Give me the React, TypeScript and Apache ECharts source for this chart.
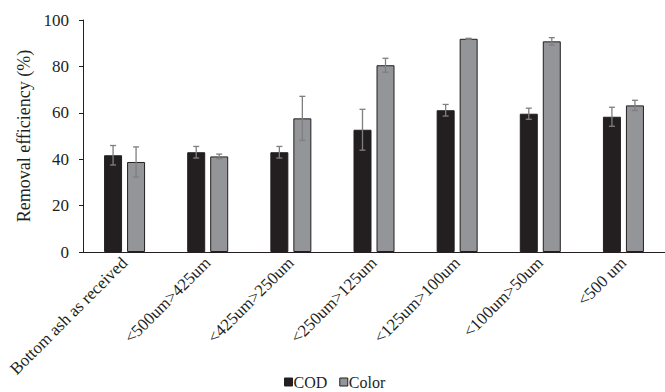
import React, { useEffect, useRef } from "react";
import * as echarts from "echarts";

const categories = [
  "Bottom ash as received",
  "<500um>425um",
  "<425um>250um",
  "<250um>125um",
  "<125um>100um",
  "<100um>50um",
  "<500 um",
];
const codValues = [41.7, 43.0, 43.0, 52.7, 61.1, 59.6, 58.3];
const codErrors = [4.2, 2.5, 2.5, 8.8, 2.5, 2.4, 4.1];
const colorValues = [38.8, 41.2, 57.6, 80.5, 91.9, 90.8, 63.2];
const colorErrors = [6.5, 1.0, 9.5, 3.0, 0.2, 1.6, 2.2];
const yTicks = [0, 20, 40, 60, 80, 100];

const FONT = "'Liberation Serif', 'Times New Roman', serif";
const BAR_W = 18;
const GAP = 5;

function errorSeries(name: string, values: number[], errs: number[], offset: number) {
  return {
    type: "custom",
    name,
    silent: true,
    z: 10,
    data: values.map((v, i) => [i, v - errs[i], v + errs[i]]),
    renderItem: (_params: any, api: any) => {
      const x = api.value(0);
      const lo = api.coord([x, api.value(1)]);
      const hi = api.coord([x, api.value(2)]);
      const cx = lo[0] + offset;
      const cap = 3;
      const style = { stroke: "#7f7f7f", lineWidth: 1.3 };
      return {
        type: "group",
        children: [
          { type: "line", shape: { x1: cx, y1: lo[1], x2: cx, y2: hi[1] }, style },
          { type: "line", shape: { x1: cx - cap, y1: lo[1], x2: cx + cap, y2: lo[1] }, style },
          { type: "line", shape: { x1: cx - cap, y1: hi[1], x2: cx + cap, y2: hi[1] }, style },
        ],
      };
    },
  };
}

export default function App() {
  const ref = useRef<HTMLDivElement>(null);
  useEffect(() => {
    if (!ref.current) return;
    const chart = echarts.init(ref.current, undefined, { renderer: "svg" });
    const off = BAR_W / 2 + GAP / 2;
    chart.setOption({
      animation: false,
      backgroundColor: "#ffffff",
      textStyle: { fontFamily: FONT },
      grid: { left: 83, top: 20, bottom: 140, right: -2, containLabel: false },
      legend: {
        data: ["COD", "Color"],
        bottom: -3,
        left: 279,
        itemWidth: 8,
        itemHeight: 8,
        itemGap: 12,
        icon: "rect",
        itemStyle: { borderColor: "#231f20", borderWidth: 1 },
        textStyle: { fontFamily: FONT, fontSize: 16, color: "#231f20", padding: [0, 0, 0, -4] },
      },
      xAxis: {
        type: "category",
        data: categories,
        axisLine: { lineStyle: { color: "#231f20", width: 1 } },
        axisTick: { inside: true, length: 4, lineStyle: { color: "#231f20" } },
        axisLabel: {
          interval: 0,
          rotate: 45,
          fontFamily: FONT,
          fontSize: 17,
          color: "#231f20",
          margin: 8,
        },
      },
      yAxis: {
        type: "value",
        min: 0,
        max: 100,
        interval: 20,
        name: "Removal efficiency (%)",
        nameLocation: "middle",
        nameGap: 46,
        nameTextStyle: { fontFamily: FONT, fontSize: 18, color: "#231f20" },
        splitLine: { show: false },
        axisLine: { show: true, lineStyle: { color: "#231f20" } },
        axisTick: { show: true, length: 4, lineStyle: { color: "#231f20" } },
        axisLabel: {
          fontFamily: FONT,
          fontSize: 17,
          color: "#231f20",
          margin: 14,
          formatter: (v: number) => (yTicks.includes(v) ? String(v) : ""),
        },
      },
      series: [
        {
          name: "COD",
          type: "bar",
          data: codValues,
          barWidth: BAR_W,
          barGap: `${(GAP / BAR_W) * 100}%`,
          itemStyle: { color: "#231f20", borderColor: "#231f20", borderWidth: 1 },
        },
        {
          name: "Color",
          type: "bar",
          data: colorValues,
          barWidth: BAR_W,
          itemStyle: { color: "#939598", borderColor: "#231f20", borderWidth: 1 },
        },
        errorSeries("COD err", codValues, codErrors, -off),
        errorSeries("Color err", colorValues, colorErrors, off),
      ],
    });
    return () => chart.dispose();
  }, []);
  return (
    <div
      ref={ref}
      style={{ position: "fixed", left: 0, top: 0, width: 665, height: 392 }}
    />
  );
}
